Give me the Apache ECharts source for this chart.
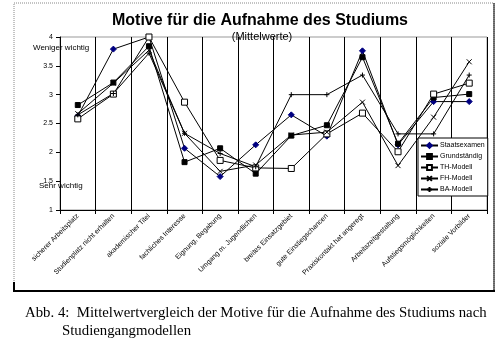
<!DOCTYPE html>
<html><head><meta charset="utf-8">
<script src="https://cdn.jsdelivr.net/npm/echarts@6/dist/echarts.min.js"></script>
<style>html,body{margin:0;padding:0;background:#fff}#c{width:500px;height:349px}</style>
</head><body><div id="c"></div>
<script>
const categories = ["sicherer Arbeitsplatz","Studienplatz nicht erhalten","akademischer Titel","fachliches Interesse","Eignung, Begabung","Umgang m. Jugendlichen","breites Einsatzgebiet","gute Einstiegschancen","Praxiskontakt hat angeregt","Arbeitszeitgestaltung","Aufstiegsmöglichkeiten","soziale Vorbilder"];
const yTicks = [1, 1.5, 2, 2.5, 3, 3.5, 4];
const seriesNames = ["Staatsexamen","Grundständig","TH-Modell","FH-Modell","BA-Modell"];
const staatsexamen = [2.63, 3.79, 4.00, 2.07, 1.58, 2.13, 2.65, 2.28, 3.76, 2.13, 2.88, 2.88];
const grundstaendig = [2.82, 3.21, 3.84, 1.83, 2.07, 1.63, 2.29, 2.47, 3.65, 2.15, 2.95, 3.01];
const thModell = [2.58, 3.01, 4.00, 2.87, 1.86, 1.73, 1.72, 2.32, 2.68, 2.01, 3.01, 3.20];
const fhModell = [2.67, 3.20, 3.77, 2.33, 1.67, 1.78, 2.30, 2.35, 2.87, 1.77, 2.61, 3.57];
const baModell = [2.65, 3.02, 3.72, 2.33, 1.98, 1.75, 3.00, 3.00, 3.34, 2.32, 2.32, 3.34];

const chart = echarts.init(document.getElementById('c'), null, {renderer:'canvas'});
const F = 'Arial, "Liberation Sans", sans-serif';
const xPath = 'path://M0,0L10,10M10,0L0,10';
const starPath = 'path://M0,5L10,5M5,0L5,10';
function mk(name, data, symbol, size, fill, stroke){
  return {name, type:'line', data, symbol, symbolSize:size, showSymbol:true,
    lineStyle:{color:'#000', width:1}, itemStyle:{color:fill, borderColor:stroke, borderWidth:1},
    emphasis:{disabled:true}, animation:false, z:3};
}
chart.setOption({
  animation:false,
  grid:{left:60, right:13, top:37, bottom:139, show:true, borderColor:'#999', borderWidth:1},
  xAxis:{type:'category', data:categories, boundaryGap:true,
    axisLine:{lineStyle:{color:'#000', width:1}},
    axisTick:{show:true, interval:0, length:4, lineStyle:{color:'#000'}},
    splitLine:{show:true, interval:0, lineStyle:{color:'#000', width:1}},
    axisLabel:{interval:0, rotate:45, fontSize:7, color:'#000', fontFamily:F, margin:5}},
  yAxis:{type:'value', min:yTicks[0], max:yTicks[yTicks.length-1], interval:0.5,
    axisLine:{show:true, lineStyle:{color:'#000', width:1}},
    axisTick:{show:true, length:4, lineStyle:{color:'#000'}},
    splitLine:{show:false},
    axisLabel:{fontSize:7, color:'#000', fontFamily:F, margin:7, formatter:v=>String(v)}},
  legend:{orient:'vertical', left:418, top:138, width:66, itemWidth:17, itemHeight:6, itemGap:4,
    padding:[4,3,3,2], backgroundColor:'#fff', borderColor:'#000', borderWidth:1,
    textStyle:{fontSize:7, color:'#000', fontFamily:F, padding:[0,0,0,-3]}, data:seriesNames, z:10},
  series:[
    mk(seriesNames[0], staatsexamen, 'diamond', 6, '#000080', '#000080'),
    mk(seriesNames[1], grundstaendig, 'rect', 5, '#000', '#000'),
    mk(seriesNames[2], thModell, 'rect', 6, '#fff', '#000'),
    mk(seriesNames[3], fhModell, xPath, 5, 'transparent', '#000'),
    mk(seriesNames[4], baModell, starPath, 5, 'transparent', '#000')
  ],
  graphic:[
    {type:'rect', shape:{x:14, y:3, width:480, height:288}, style:{fill:'none', stroke:'#888', lineWidth:1, lineDash:[1,1]}, z:-1, silent:true},
    {type:'line', shape:{x1:14, y1:282, x2:14, y2:292}, style:{stroke:'#000', lineWidth:2}, silent:true},
    {type:'line', shape:{x1:13, y1:291, x2:495, y2:291}, style:{stroke:'#000', lineWidth:2}, silent:true},
    {type:'line', shape:{x1:494, y1:3, x2:494, y2:292}, style:{stroke:'#000', lineWidth:1}, silent:true},
    {type:'text', x:260, y:13, style:{text:'Motive für die Aufnahme des Studiums', font:'bold 16px Arial, "Liberation Sans", sans-serif', fill:'#000', textAlign:'center'}, z:10},
    {type:'text', x:262, y:31, style:{text:'(Mittelwerte)', font:'11px Arial, "Liberation Sans", sans-serif', fill:'#000', textAlign:'center'}, z:10},
    {type:'text', x:33, y:44, style:{text:'Weniger wichtig', font:'8px Arial, "Liberation Sans", sans-serif', fill:'#000'}, z:10},
    {type:'text', x:39, y:182, style:{text:'Sehr wichtig', font:'8px Arial, "Liberation Sans", sans-serif', fill:'#000'}, z:10},
    {type:'text', x:25, y:306, style:{text:'Abb. 4:  Mittelwertvergleich der Motive für die Aufnahme des Studiums nach', font:'14.8px "Liberation Serif", "Times New Roman", serif', fill:'#000'}, z:10},
    {type:'text', x:62, y:324, style:{text:'Studiengangmodellen', font:'14.8px "Liberation Serif", "Times New Roman", serif', fill:'#000'}, z:10}
  ]
});
</script></body></html>
